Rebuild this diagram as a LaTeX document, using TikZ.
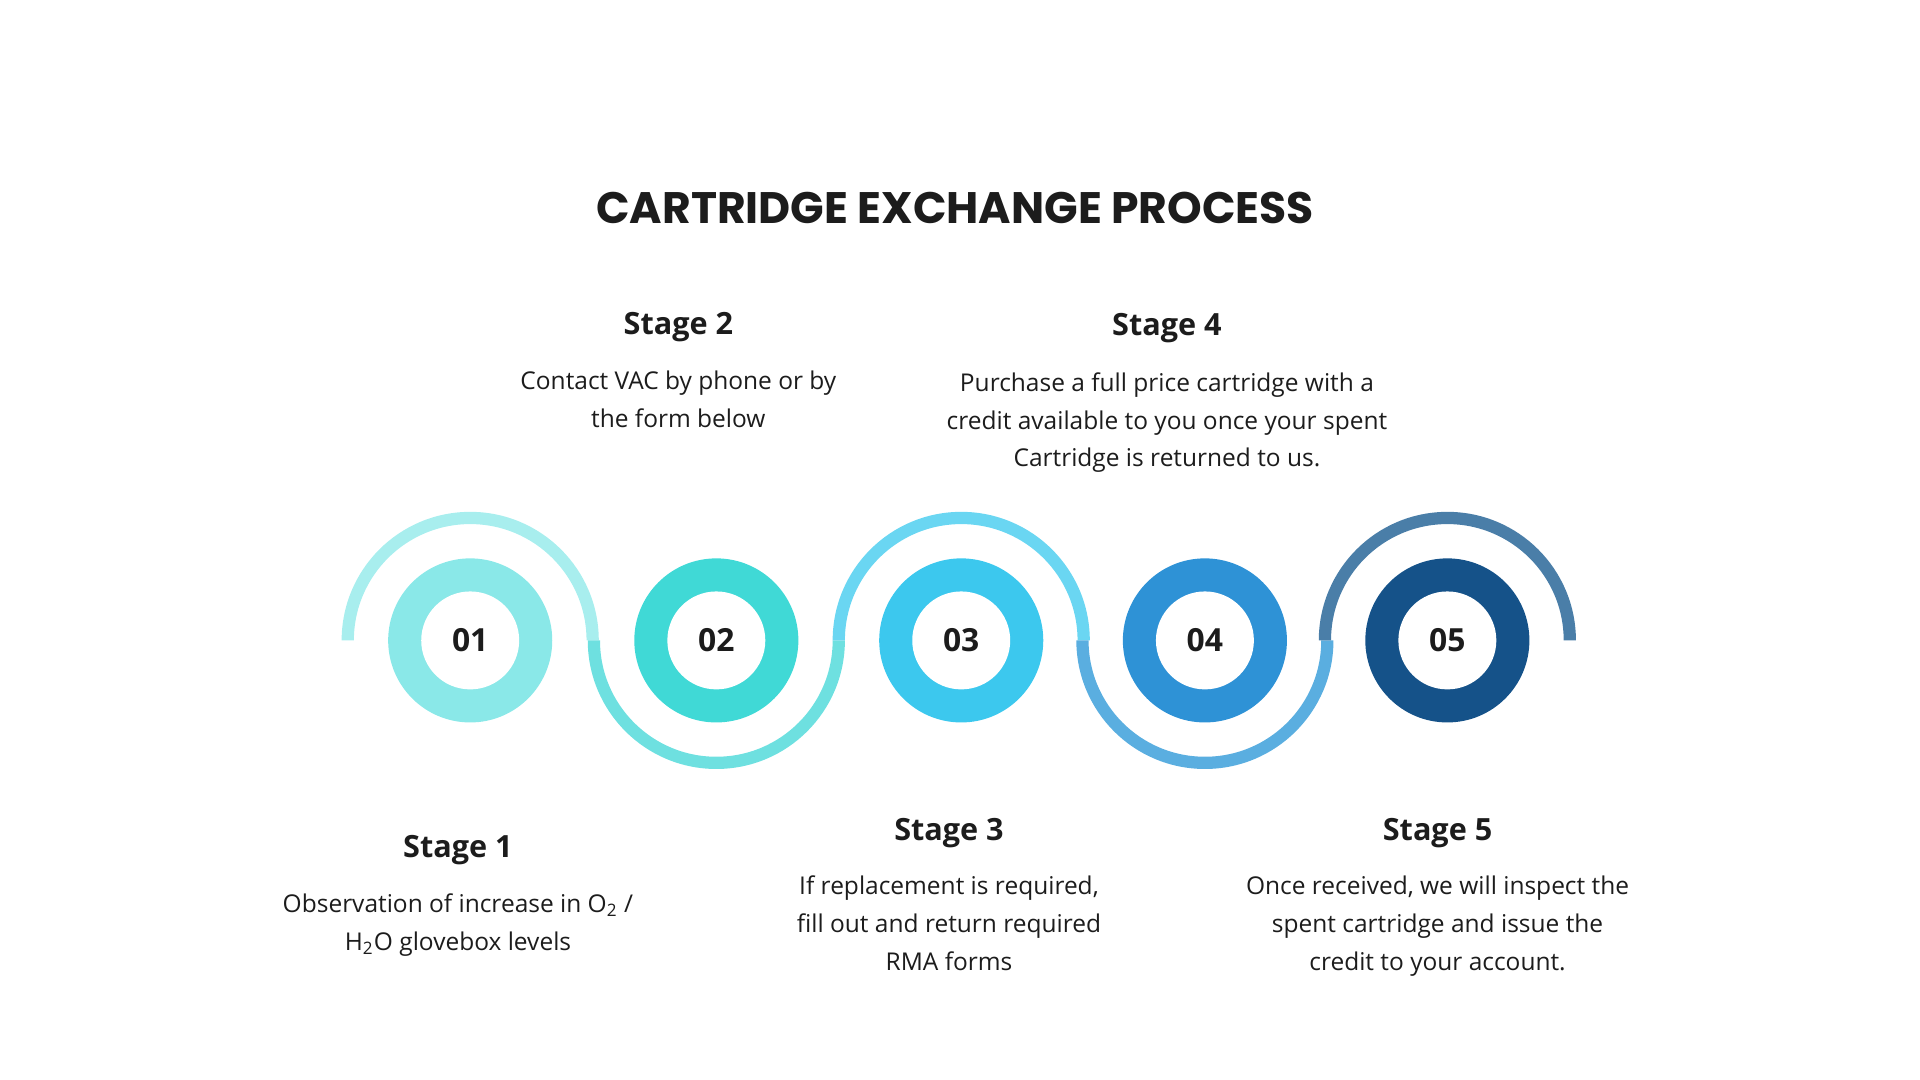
\documentclass[tikz,border=0pt]{standalone}
\usepackage{fontspec}
\setmainfont{Open Sans}
\newfontfamily\titlefont{Poppins}
\definecolor{a1}{HTML}{A8EEEE}\definecolor{a2}{HTML}{6EE0E0}\definecolor{a3}{HTML}{6AD6F2}
\definecolor{a4}{HTML}{5AAEE0}\definecolor{a5}{HTML}{4A7EA8}
\definecolor{k1}{HTML}{8AE8E8}\definecolor{k2}{HTML}{40D9D6}\definecolor{k3}{HTML}{3CC8EE}
\definecolor{k4}{HTML}{2E92D6}\definecolor{k5}{HTML}{155289}
\definecolor{ink}{HTML}{1C1C1C}
\begin{document}
\begin{tikzpicture}[x=0.5pt,y=-0.5pt,
 ring/.style={circle,minimum size=80pt,inner sep=0pt,font=\bfseries\fontsize{13}{13}\selectfont,text=ink,
   path picture={\fill[#1](path picture bounding box.center) circle(33.5pt);\fill[white](path picture bounding box.center) circle(20pt);}},
 arcst/.style={line width=5pt,draw=#1},
 head/.style={font=\bfseries\fontsize{12.5}{14}\selectfont,text=ink},
 body/.style={font=\fontsize{10}{15.5}\selectfont,text=ink,align=center}]
\useasboundingbox (0,0) rectangle (1568,882);
\node[font=\titlefont\bfseries\fontsize{18}{20}\selectfont,text=ink] (title) at (780,170) {CARTRIDGE EXCHANGE PROCESS};
\foreach \i/\x in {1/384,2/585,3/785,4/984,5/1182}{
  \node[ring=k\i] (c\i) at (\x,523) {0\i};}
\draw[arcst=a1] ([xshift=-50pt]c1.center) arc[start angle=180,end angle=0,radius=50pt];
\draw[arcst=a2] ([xshift=-50pt]c2.center) arc[start angle=180,end angle=360,radius=50pt];
\draw[arcst=a3] ([xshift=-50pt]c3.center) arc[start angle=180,end angle=0,radius=50pt];
\draw[arcst=a4] ([xshift=-50pt]c4.center) arc[start angle=180,end angle=360,radius=50pt];
\draw[arcst=a5] ([xshift=-50pt]c5.center) arc[start angle=180,end angle=0,radius=50pt];
\node[head] (h2) at (554,267) {Stage 2};
\node[body,anchor=north] (b2) at (554,296) {Contact VAC by phone or by\\the form below};
\node[head] (h4) at (953,268) {Stage 4};
\node[body,anchor=north] (b4) at (953,297) {Purchase a full price cartridge with a\\credit available to you once your spent\\Cartridge is returned to us.};
\node[head] (h1) at (374,694) {Stage 1};
\node[body,anchor=north] (b1) at (374,723) {Observation of increase in O\textsubscript{2} /\\H\textsubscript{2}O glovebox levels};
\node[head] (h3) at (775,680) {Stage 3};
\node[body,anchor=north] (b3) at (775,708) {If replacement is required,\\fill out and return required\\RMA forms};
\node[head] (h5) at (1174,680) {Stage 5};
\node[body,anchor=north] (b5) at (1174,708) {Once received, we will inspect the\\spent cartridge and issue the\\credit to your account.};
\end{tikzpicture}
\end{document}
